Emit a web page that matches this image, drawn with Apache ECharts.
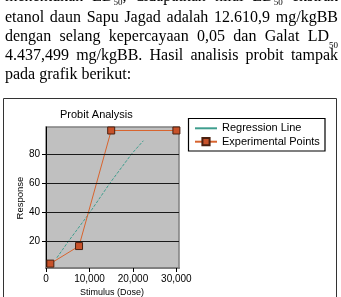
<!DOCTYPE html>
<html>
<head>
<meta charset="utf-8">
<script src="https://cdn.jsdelivr.net/npm/echarts@6/dist/echarts.min.js"></script>
<style>
  html, body { margin: 0; padding: 0; background: #fff; width: 341px; height: 297px; overflow: hidden; }
  #chart { position: absolute; left: 0; top: 0; width: 341px; height: 297px; }
  #para { position: absolute; left: 5px; top: -12.5px; width: 333px; font-family: "Liberation Serif", "Times New Roman", serif; font-size: 16px; line-height: 19.2px; color: #000; z-index: 2; }
  #para div { text-align: justify; text-align-last: justify; white-space: nowrap; }
  #para div.last { text-align-last: left; }
  #para div.first { position: relative; top: -2px; }
  #para sub { font-size: 9px; vertical-align: -7px; line-height: 0; }
  #para div.first sub { vertical-align: -4px; }
</style>
</head>
<body>
<div id="chart"></div>
<div id="para">
  <div class="first">menentukan LD<sub>50</sub>, didapatkan nilai LD<sub>50</sub> ekstrak</div>
  <div>etanol daun Sapu Jagad adalah 12.610,9 mg/kgBB</div>
  <div>dengan selang kepercayaan 0,05 dan Galat LD<sub>50</sub></div>
  <div>4.437,499 mg/kgBB. Hasil analisis probit tampak</div>
  <div class="last">pada grafik berikut:</div>
</div>
<script>
const chartTitle = "Probit Analysis";
const xAxisName = "Stimulus (Dose)";
const yAxisName = "Response";
const seriesNames = ["Regression Line", "Experimental Points"];
const xTicks = [0, 10000, 20000, 30000];
const yTicks = [20, 40, 60, 80];
const regressionLine = [[2500, 9], [5100, 20], [10100, 40], [14700, 60], [19700, 80], [22400, 89]];
const experimentalPoints = [[1000, 5], [7600, 17], [15000, 96], [30000, 96]];

const chart = echarts.init(document.getElementById('chart'), null, { renderer: 'canvas' });
const font = '"Liberation Sans", Arial, sans-serif';

chart.setOption({
  backgroundColor: '#ffffff',
  animation: false,
  grid: {
    left: 46, right: 162, top: 127, bottom: 29,
    show: true, backgroundColor: '#c0c0c0', borderColor: '#808080', borderWidth: 1.5
  },
  xAxis: {
    type: 'value', min: 0, max: 30600,
    axisLine: { show: true, lineStyle: { color: '#808080', width: 2 } },
    axisTick: { show: true, customValues: xTicks, length: 4, lineStyle: { color: '#000' } },
    axisLabel: { customValues: xTicks, fontSize: 10, color: '#000', fontFamily: font, margin: 6 },
    splitLine: { show: false }
  },
  yAxis: {
    type: 'value', min: 2, max: 98.4,
    axisLine: { show: true, onZero: false, lineStyle: { color: '#000', width: 1 } },
    axisTick: { show: true, customValues: yTicks, length: 4, lineStyle: { color: '#000' } },
    axisLabel: { customValues: yTicks, fontSize: 10, color: '#000', fontFamily: font, margin: 6 },
    splitLine: { show: false }
  },
  legend: {
    orient: 'vertical', left: 194, top: 122.8, padding: 0,
    itemWidth: 22, itemHeight: 9, itemGap: 2.4,
    textStyle: { fontSize: 11, color: '#000', fontFamily: font, lineHeight: 11 },
    data: [
      { name: seriesNames[0], lineStyle: { type: 'solid' }, itemStyle: { opacity: 0 } },
      { name: seriesNames[1] }
    ]
  },
  graphic: [
    { type: 'rect', z: 100, shape: { x: 3.5, y: 98.5, width: 333, height: 260 }, style: { fill: 'none', stroke: '#333', lineWidth: 1 } },
    { type: 'rect', z: 100, shape: { x: 188.5, y: 118.5, width: 136.5, height: 32.5 }, style: { fill: 'none', stroke: '#000', lineWidth: 1.2 } },
    { type: 'text', z: 100, x: 60, y: 115, style: { text: chartTitle, font: '11px ' + font, fill: '#000', textVerticalAlign: 'middle' } },
    { type: 'text', z: 100, x: 112, y: 293, style: { text: xAxisName, font: '9px ' + font, fill: '#000', textAlign: 'center', textVerticalAlign: 'middle' } },
    { type: 'text', z: 100, x: 20, y: 198, rotation: Math.PI / 2, style: { text: yAxisName, font: '9.5px ' + font, fill: '#000', textAlign: 'center', textVerticalAlign: 'middle' } }
  ],
  series: [
    {
      name: 'grid', type: 'line', data: [], z: 1, silent: true,
      markLine: {
        silent: true, symbol: 'none', label: { show: false },
        lineStyle: { color: '#1a1a1a', width: 1, type: 'solid' },
        data: yTicks.map(v => ({ yAxis: v }))
      }
    },
    {
      name: seriesNames[0], type: 'line', data: regressionLine, z: 3,
      symbol: 'none', showSymbol: false,
      lineStyle: { color: '#3f9e8e', width: 1, type: [3, 1.5] },
      itemStyle: { color: '#3f9e8e' }
    },
    {
      name: seriesNames[1], type: 'line', data: experimentalPoints, z: 4,
      symbol: 'rect', symbolSize: 7, showSymbol: true,
      lineStyle: { color: '#d8642e', width: 1 },
      itemStyle: { color: '#c8522a', borderColor: '#4a2010', borderWidth: 1 }
    }
  ]
});
</script>
</body>
</html>
